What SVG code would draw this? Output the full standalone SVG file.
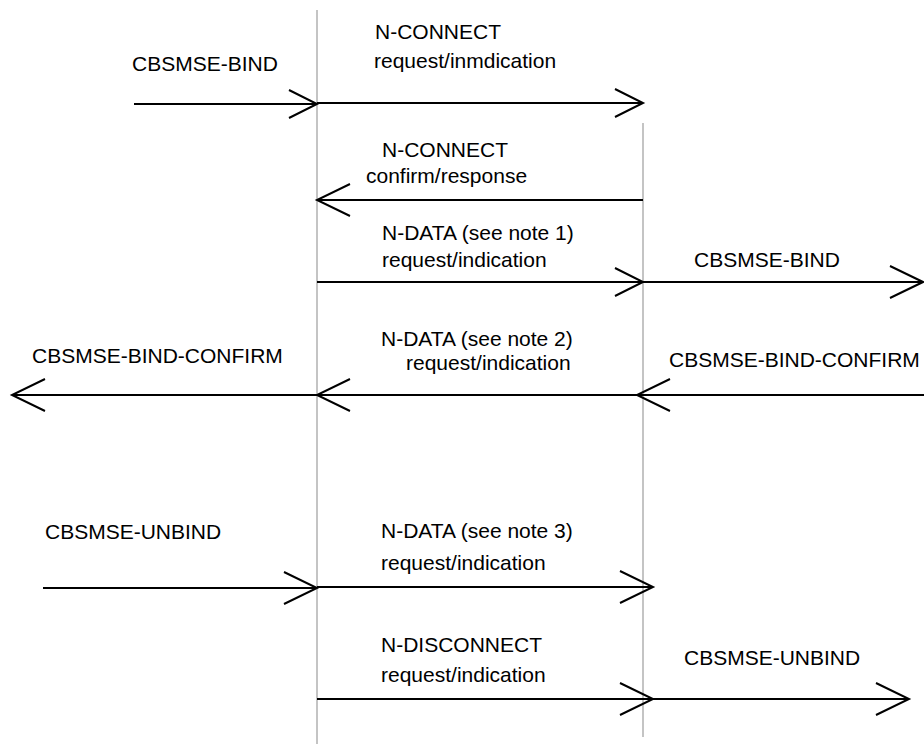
<svg xmlns="http://www.w3.org/2000/svg" width="924" height="745" viewBox="0 0 924 745">
<style>
.life{stroke:#c4c4c4;stroke-width:2;fill:none}
.msg{stroke:#000;stroke-width:2;fill:none;marker-end:url(#open)}
.msg.s{marker-end:url(#open-s)}
text{font-family:"Liberation Sans",Arial,sans-serif;font-size:21px;fill:#000}
</style>
<defs>
<marker id="open" markerUnits="userSpaceOnUse" orient="auto" refX="0" refY="0" markerWidth="40" markerHeight="40" overflow="visible">
<path d="M-33,-16 L0,0 L-33,16" fill="none" stroke="#000" stroke-width="2"/>
</marker>
<marker id="open-s" markerUnits="userSpaceOnUse" orient="auto" refX="0" refY="0" markerWidth="40" markerHeight="40" overflow="visible">
<path d="M-28,-14 L0,0 L-28,14" fill="none" stroke="#000" stroke-width="2"/>
</marker>
</defs>
<rect width="924" height="745" fill="#fff"/>
<g id="lifeline-left"><line class="life" x1="317" y1="10" x2="317" y2="744"/></g>
<g id="lifeline-right"><line class="life" x1="643" y1="123" x2="643" y2="737"/></g>
<g id="connectors">
<line class="msg s" x1="134" y1="104" x2="317" y2="104"/>
<line class="msg s" x1="317" y1="103" x2="643" y2="103"/>
<line class="msg" x1="643" y1="200" x2="317" y2="200"/>
<line class="msg s" x1="317" y1="282" x2="643" y2="282"/>
<line class="msg" x1="643" y1="282" x2="923" y2="282"/>
<line class="msg" x1="924" y1="395" x2="637" y2="395"/>
<line class="msg" x1="637" y1="395" x2="317" y2="395"/>
<line class="msg" x1="317" y1="395" x2="12" y2="395"/>
<line class="msg" x1="43" y1="588" x2="317" y2="588"/>
<line class="msg" x1="317" y1="587" x2="653" y2="587"/>
<line class="msg" x1="317" y1="699" x2="653" y2="699"/>
<line class="msg" x1="643" y1="699" x2="909" y2="699"/>
</g>
<g id="labels">
<text x="132" y="71">CBSMSE-BIND</text>
<text x="375" y="39">N-CONNECT</text>
<text x="374" y="68">request/inmdication</text>
<text x="382" y="157">N-CONNECT</text>
<text x="366" y="183">confirm/response</text>
<text x="382" y="240">N-DATA (see note 1)</text>
<text x="382" y="267">request/indication</text>
<text x="694" y="267">CBSMSE-BIND</text>
<text x="381" y="346">N-DATA (see note 2)</text>
<text x="406" y="370">request/indication</text>
<text x="32" y="363">CBSMSE-BIND-CONFIRM</text>
<text x="669" y="367">CBSMSE-BIND-CONFIRM</text>
<text x="45" y="539">CBSMSE-UNBIND</text>
<text x="381" y="538">N-DATA (see note 3)</text>
<text x="381" y="570">request/indication</text>
<text x="381" y="652">N-DISCONNECT</text>
<text x="381" y="682">request/indication</text>
<text x="684" y="665">CBSMSE-UNBIND</text>
</g>
</svg>
